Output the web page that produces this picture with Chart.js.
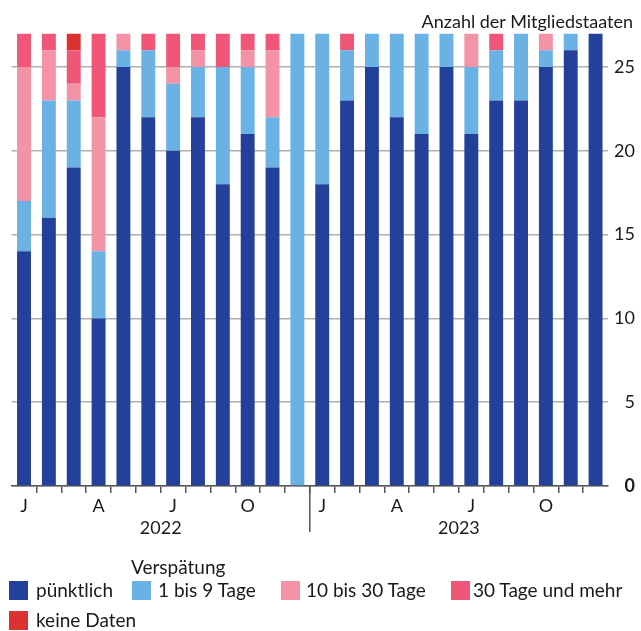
<!DOCTYPE html>
<html>
<head>
<meta charset="utf-8">
<script src="https://cdn.jsdelivr.net/npm/chart.js@4"></script>
<style>
  html, body { margin: 0; padding: 0; background: #fff; }
  #wrap { position: relative; width: 641px; height: 631px; font-family: Lato, sans-serif; color: #1a1a1a; }
  #c { position: absolute; left: 0; top: 0; }
  .t { position: absolute; font-size: 18px; line-height: 20px; white-space: nowrap; }
  .lt { font-size: 19px; }
  .sq { position: absolute; width: 19px; height: 19px; }
</style>
</head>
<body>
<div id="wrap">
  <canvas id="c" width="641" height="631"></canvas>
  <div class="t" id="ytitle" style="right:8px; top:11px;">Anzahl der Mitgliedstaaten</div>
  <div class="t lt" style="left:131px; top:557px;">Verspätung</div>
  <div id="legend"></div>
</div>
<script>
const monthLabels = ["J","","","A","","","J","","","O","","", "J","","","A","","","J","","","O","",""];
const years = ["2022", "2023"];
const yTicks = [0, 5, 10, 15, 20, 25];
const punktlich = [14,16,19,10,25,22,20,22,18,21,19,0, 18,23,25,22,21,25,21,23,23,25,26,27];
const tage1bis9 = [3,7,4,4,1,4,4,3,7,4,3,27, 9,3,2,5,6,2,4,3,4,1,1,0];
const tage10bis30 = [8,3,1,8,1,0,1,1,0,1,4,0, 0,0,0,0,0,0,2,0,0,1,0,0];
const tage30mehr = [2,1,2,5,0,1,2,1,2,1,1,0, 0,1,0,0,0,0,0,1,0,0,0,0];
const keineDaten = [0,0,1,0,0,0,0,0,0,0,0,0, 0,0,0,0,0,0,0,0,0,0,0,0];
const seriesNames = ["pünktlich", "1 bis 9 Tage", "10 bis 30 Tage", "30 Tage und mehr", "keine Daten"];
const colors = ["#23419a", "#6ab2e4", "#f492a6", "#f05677", "#da3131"];

const FONT = "Lato, sans-serif";
const TXT = "#1a1a1a";

const yearPlugin = {
  id: "yearPlugin",
  afterDraw(chart) {
    const x = chart.scales.x;
    const ctx = chart.ctx;
    const sepX = (x.getPixelForValue(11) + x.getPixelForValue(12)) / 2;
    ctx.save();
    ctx.strokeStyle = "#555";
    ctx.lineWidth = 1.5;
    ctx.beginPath();
    ctx.moveTo(sepX, x.top);
    ctx.lineTo(sepX, x.top + 46);
    ctx.stroke();
    ctx.fillStyle = TXT;
    ctx.font = "18px " + FONT;
    ctx.textAlign = "center";
    ctx.textBaseline = "middle";
    years.forEach((y, i) => {
      const cx = (x.getPixelForValue(i * 12) + x.getPixelForValue(i * 12 + 11)) / 2;
      ctx.fillText(y, cx, x.top + 42);
    });
    ctx.restore();
  }
};

const dataArrays = [punktlich, tage1bis9, tage10bis30, tage30mehr, keineDaten];
new Chart(document.getElementById("c"), {
  type: "bar",
  data: {
    labels: monthLabels,
    datasets: dataArrays.map((d, i) => ({
      label: seriesNames[i],
      data: d,
      backgroundColor: colors[i],
      borderWidth: 0,
      categoryPercentage: 1,
      barPercentage: 0.56
    }))
  },
  options: {
    responsive: false,
    animation: false,
    devicePixelRatio: 1,
    layout: { padding: { left: 11.6, right: 6, top: 33.5, bottom: 0 } },
    plugins: { legend: { display: false }, tooltip: { enabled: false } },
    scales: {
      x: {
        stacked: true,
        afterFit(s) { s.height = 145; },
        grid: {
          offset: true,
          drawOnChartArea: false,
          drawTicks: true,
          tickLength: 7,
          lineWidth: 1.5,
          color: c => (c.index === 0 || c.index === undefined) ? "rgba(0,0,0,0)" : "#555"
        },
        border: { display: true, color: "#555", width: 1.5 },
        ticks: {
          autoSkip: false, maxRotation: 0, minRotation: 0, padding: 2,
          color: TXT, font: { family: FONT, size: 18 }
        }
      },
      y: {
        stacked: true,
        position: "right",
        min: 0, max: 27,
        afterFit(s) { s.width = 27; },
        afterBuildTicks(s) { s.ticks = yTicks.map(v => ({ value: v })); },
        grid: { drawTicks: false, color: "#b0b0b0", lineWidth: 1.5 },
        border: { display: false },
        ticks: {
          crossAlign: "far",
          padding: 0,
          color: TXT,
          font: c => ({ family: FONT, size: 18, weight: (c.tick && c.tick.value === 0) ? "bold" : "normal" })
        }
      }
    }
  },
  plugins: [yearPlugin]
});

// HTML legend
const legendPos = [
  { sx: 9, sy: 581, tx: 36, ty: 580 },
  { sx: 132, sy: 581, tx: 158, ty: 580 },
  { sx: 281, sy: 581, tx: 306, ty: 580 },
  { sx: 451, sy: 581, tx: 473, ty: 580 },
  { sx: 9, sy: 611, tx: 36, ty: 610 }
];
const lg = document.getElementById("legend");
seriesNames.forEach((n, i) => {
  const p = legendPos[i];
  const sq = document.createElement("div");
  sq.className = "sq";
  sq.style.left = p.sx + "px"; sq.style.top = p.sy + "px"; sq.style.background = colors[i];
  lg.appendChild(sq);
  const t = document.createElement("div");
  t.className = "t lt";
  t.style.left = p.tx + "px"; t.style.top = p.ty + "px";
  t.textContent = n;
  lg.appendChild(t);
});
</script>
</body>
</html>
